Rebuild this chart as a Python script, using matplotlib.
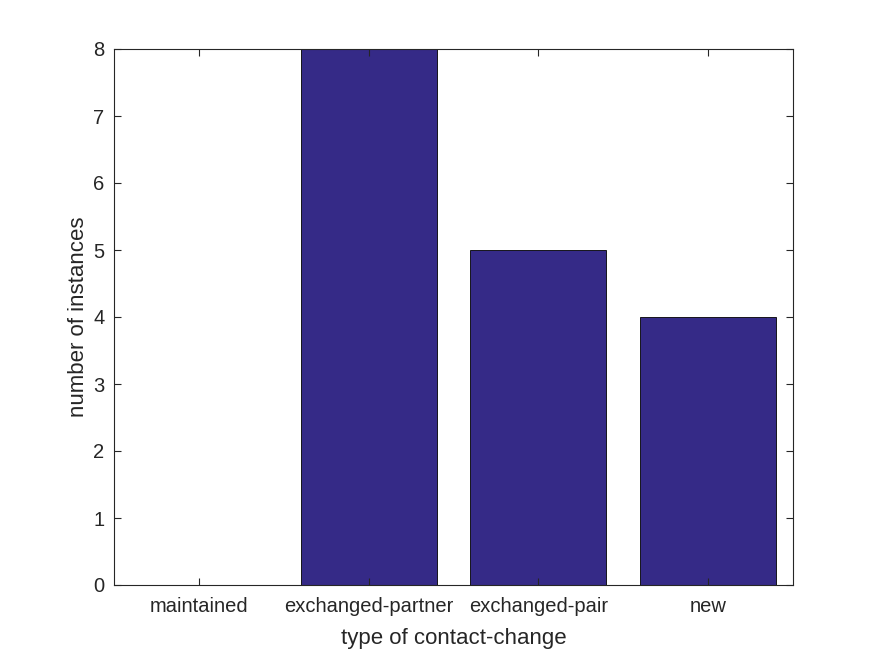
import matplotlib
matplotlib.use("Agg")
import matplotlib.pyplot as plt

categories = ["maintained", "exchanged-partner", "exchanged-pair", "new"]
counts = [0, 8, 5, 4]

plt.rcParams['font.family'] = ['Liberation Sans', 'DejaVu Sans']

fig = plt.figure(figsize=(8.75, 6.56), dpi=100)
ax = fig.add_axes([114 / 875, 71 / 656, 679 / 875, 536 / 656])

x = list(range(1, len(categories) + 1))
ax.bar(x, counts, width=0.8, color="#352A87", edgecolor="black", linewidth=0.6)

ax.set_xlim(0.5, 4.5)
ax.set_ylim(0, 8)
ax.set_xticks(x)
ax.set_xticklabels(categories)
ax.set_yticks(range(0, 9))

dark = "#262626"
for s in ax.spines.values():
    s.set_color(dark)
    s.set_linewidth(0.8)
ax.tick_params(direction="in", top=True, right=True, length=5, width=0.8,
               colors=dark, labelsize=14.5)
ax.tick_params(axis="x", pad=9)
ax.tick_params(axis="y", pad=7)

ax.set_xlabel("type of contact-change", fontsize=16, color=dark, labelpad=8)
ax.set_ylabel("number of instances", fontsize=16, color=dark, labelpad=3)

fig.savefig("out.png", dpi=100)
